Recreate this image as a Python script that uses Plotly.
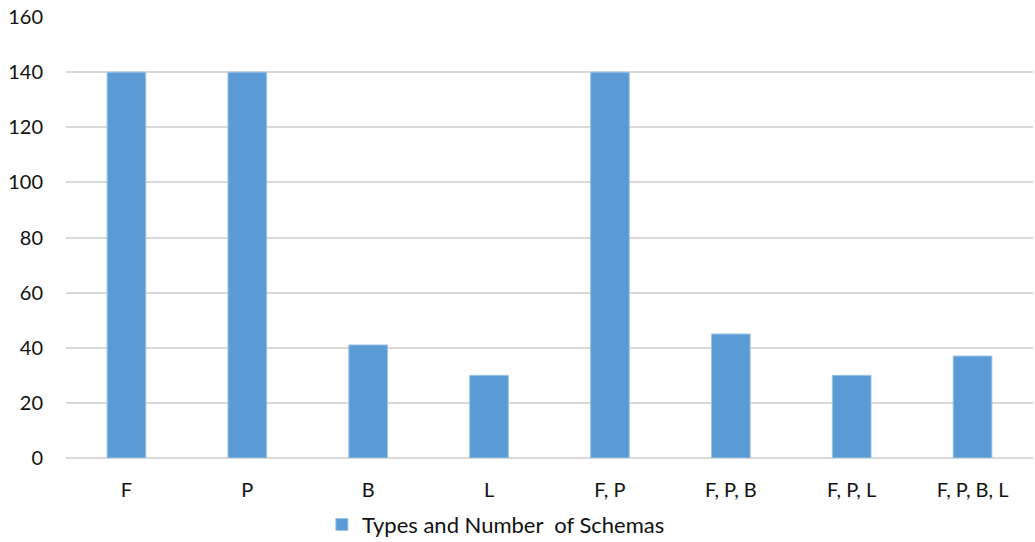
import plotly.graph_objects as go

categories = ["F", "P", "B", "L", "F, P", "F, P, B", "F, P, L", "F, P, B, L"]
counts = [140, 140, 41, 30, 140, 45, 30, 37]
series_name = "Types and Number  of Schemas"
y_ticks = [0, 20, 40, 60, 80, 100, 120, 140, 160]

font_family = "Lato, Carlito, 'Open Sans', sans-serif"

fig = go.Figure()
fig.add_trace(go.Bar(
    x=categories,
    y=counts,
    name=series_name,
    marker=dict(color="#5b9bd5", line=dict(color="#9dc3e6", width=1)),
    width=0.32,
    showlegend=True,
))

fig.update_layout(
    width=1035,
    height=542,
    margin=dict(l=66, r=2, t=17, b=84, autoexpand=False),
    paper_bgcolor="white",
    plot_bgcolor="white",
    font=dict(family=font_family, size=20, color="#111111"),
    showlegend=True,
    legend=dict(
        orientation="h",
        xref="container", yref="container",
        x=0.311, xanchor="left",
        y=0.032, yanchor="middle",
        font=dict(size=22),
        itemwidth=30,
    ),
    xaxis=dict(
        showgrid=False,
        showline=False,
        ticks="",
        tickfont=dict(size=20),
        ticklabelstandoff=18,
    ),
    yaxis=dict(
        range=[0, 160],
        tickvals=y_ticks,
        showgrid=True,
        gridcolor="#d9d9d9",
        gridwidth=1.5,
        zeroline=True,
        zerolinecolor="#d9d9d9",
        zerolinewidth=1.5,
        showline=False,
        ticks="",
        tickfont=dict(size=20),
        ticklabelstandoff=22,
    ),
)

fig.write_html("out.html")
